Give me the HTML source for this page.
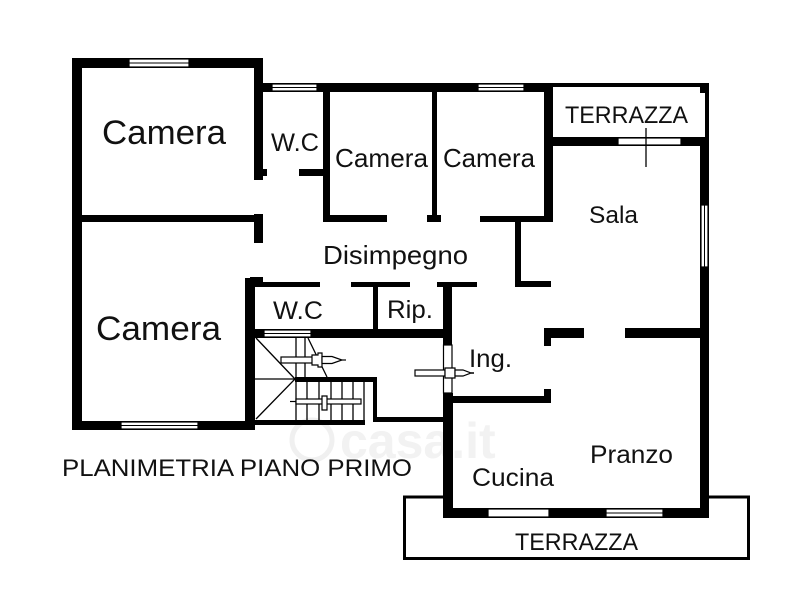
<!DOCTYPE html>
<html><head><meta charset="utf-8">
<style>
html,body{margin:0;padding:0;background:#fff;}
svg{display:block;}
text{font-family:"Liberation Sans",sans-serif;fill:#111;}
</style></head>
<body>
<svg width="800" height="597" viewBox="0 0 800 597" xmlns="http://www.w3.org/2000/svg">
<rect width="800" height="597" fill="#fff"/>

<!-- bottom terrace -->
<rect x="404.5" y="497" width="344" height="61.5" fill="none" stroke="#000" stroke-width="3"/>
<rect x="453" y="403" width="247" height="105" fill="#fff"/>

<!-- watermark -->
<g>
<circle cx="312" cy="440" r="20" fill="none" stroke="#f0f0f0" stroke-width="5"/>
<text x="340" y="458" font-size="50" font-weight="bold" style="fill:#f2f2f2">casa.it</text>
</g>

<g fill="#000">
<!-- top-left camera -->
<rect x="72" y="58" width="191" height="10"/>
<rect x="72" y="58" width="10" height="372"/>
<rect x="254" y="58" width="9" height="122"/>
<rect x="254" y="169" width="13" height="7"/>
<!-- WC top wall -->
<rect x="263" y="83" width="290" height="9"/>
<rect x="323" y="83" width="7" height="139"/>
<rect x="299" y="169" width="25" height="7"/>
<rect x="323" y="215" width="64" height="7"/>
<rect x="432" y="92" width="5" height="130"/>
<rect x="427" y="215" width="14" height="7"/>
<rect x="480" y="216" width="73" height="6"/>
<rect x="544" y="83" width="9" height="139"/>
<!-- camera/camera divider -->
<rect x="82" y="215" width="172" height="7"/>
<rect x="254" y="214" width="9" height="29"/>
<!-- lower camera -->
<rect x="245" y="278" width="10" height="152"/>
<rect x="250" y="277" width="13" height="8"/>
<rect x="72" y="421" width="183" height="9"/>
<!-- lower WC / Rip -->
<rect x="255" y="282" width="65" height="5"/>
<rect x="351" y="282" width="59" height="5"/>
<rect x="373" y="282" width="5" height="53"/>
<rect x="437" y="282" width="40" height="5"/>
<rect x="443" y="282" width="9" height="63"/>
<rect x="443" y="393" width="10" height="125"/>
<rect x="245" y="329" width="207" height="9"/>
<!-- stairs walls -->
<rect x="295" y="377" width="82" height="5"/>
<rect x="373" y="377" width="4" height="45"/>
<rect x="373" y="417" width="70" height="5"/>
<rect x="255" y="420" width="110" height="5"/>
<!-- Sala -->
<rect x="515" y="222" width="6" height="65"/>
<rect x="515" y="281" width="36" height="6"/>
<rect x="553" y="137" width="156" height="9"/>
<rect x="553" y="83" width="156" height="4"/>
<rect x="700" y="83" width="9" height="10"/>
<rect x="705" y="83" width="4" height="60"/>
<rect x="700" y="137" width="9" height="381"/>
<rect x="544" y="328" width="40" height="10"/>
<rect x="544" y="328" width="7" height="18"/>
<rect x="625" y="328" width="84" height="10"/>
<!-- cucina -->
<rect x="452" y="396" width="99" height="7"/>
<rect x="544" y="389" width="7" height="14"/>
<rect x="443" y="508" width="266" height="10"/>
</g>

<!-- windows -->
<g fill="#fff" stroke="#000" stroke-width="1.2">
<rect x="129" y="59" width="60" height="8"/>
<rect x="272" y="84" width="45" height="7"/>
<rect x="478" y="84" width="46" height="7"/>
<rect x="618" y="138" width="63" height="7"/>
<rect x="121" y="422" width="77" height="7"/>
<rect x="264" y="330" width="47" height="7"/>
<rect x="488" y="509" width="61" height="8"/>
<rect x="606" y="509" width="57" height="8"/>
<rect x="701" y="205" width="7" height="62"/>
<rect x="443.5" y="345" width="8.5" height="48"/>
</g>
<g stroke="#000" stroke-width="1">
<line x1="129" y1="63" x2="189" y2="63"/>
<line x1="272" y1="87.5" x2="317" y2="87.5"/>
<line x1="478" y1="87.5" x2="524" y2="87.5"/>
<line x1="121" y1="425.5" x2="198" y2="425.5"/>
<line x1="264" y1="333.5" x2="311" y2="333.5"/>
<line x1="606" y1="513" x2="663" y2="513"/>
<line x1="704.5" y1="205" x2="704.5" y2="267"/>
</g>
<!-- terrace cross -->
<line x1="646" y1="128" x2="646" y2="167" stroke="#000" stroke-width="1.3"/>

<!-- stairs -->
<g stroke="#000" stroke-width="1.3" fill="none">
<line x1="256" y1="338" x2="295" y2="379"/>
<line x1="295" y1="379" x2="256" y2="419"/>
<line x1="255" y1="379" x2="295" y2="379"/>
<line x1="296" y1="338" x2="296" y2="420"/>
<line x1="305" y1="338" x2="305" y2="377"/>
<line x1="308" y1="338" x2="327" y2="377"/>
<line x1="307" y1="382" x2="307" y2="420"/>
<line x1="319" y1="382" x2="319" y2="420"/>
<line x1="331" y1="382" x2="331" y2="420"/>
<line x1="342" y1="382" x2="342" y2="420"/>
<line x1="353" y1="382" x2="353" y2="420"/>
<line x1="364" y1="382" x2="364" y2="420"/>
</g>
<!-- stair arrows -->
<g stroke="#000" stroke-width="1.2" fill="#fff">
<rect x="281" y="357" width="50" height="6"/>
<path d="M312 355 h6 v-2 h4 v14 h-4 v-2 h-6 z"/>
<path d="M322 356.5 h10 l10 3.5 l-10 3.5 h-10 z"/>
<rect x="296" y="399" width="65" height="5"/>
<path d="M322 396 h5 v14 h-5 z"/>
<rect x="415" y="370" width="30" height="6"/>
<path d="M445 368 h10 v10 h-10 z"/>
<path d="M455 370 h8 l8 3 l-8 3 h-8 z"/>
</g>
<line x1="290" y1="401.5" x2="296" y2="401.5" stroke="#000" stroke-width="1.2"/>
<line x1="342" y1="360" x2="346" y2="360" stroke="#000" stroke-width="1.2"/>
<line x1="471" y1="373" x2="474" y2="373" stroke="#000" stroke-width="1.5"/>

<!-- labels -->
<text x="102" y="144" font-size="34" textLength="124" lengthAdjust="spacingAndGlyphs">Camera</text>
<text x="271" y="151" font-size="25" textLength="48" lengthAdjust="spacingAndGlyphs">W.C</text>
<text x="335" y="167" font-size="26" textLength="93" lengthAdjust="spacingAndGlyphs">Camera</text>
<text x="443" y="167" font-size="26" textLength="92" lengthAdjust="spacingAndGlyphs">Camera</text>
<text x="565" y="123" font-size="24" textLength="123" lengthAdjust="spacingAndGlyphs">TERRAZZA</text>
<text x="589" y="223" font-size="24" textLength="49" lengthAdjust="spacingAndGlyphs">Sala</text>
<text x="323" y="264" font-size="26" textLength="145" lengthAdjust="spacingAndGlyphs">Disimpegno</text>
<text x="96" y="340" font-size="34" textLength="125" lengthAdjust="spacingAndGlyphs">Camera</text>
<text x="273" y="319" font-size="25" textLength="50" lengthAdjust="spacingAndGlyphs">W.C</text>
<text x="387" y="318" font-size="25" textLength="46" lengthAdjust="spacingAndGlyphs">Rip.</text>
<text x="469" y="367" font-size="25" textLength="43" lengthAdjust="spacingAndGlyphs">Ing.</text>
<text x="590" y="463" font-size="25" textLength="83" lengthAdjust="spacingAndGlyphs">Pranzo</text>
<text x="472" y="486" font-size="25" textLength="82" lengthAdjust="spacingAndGlyphs">Cucina</text>
<text x="515" y="550" font-size="24" textLength="123" lengthAdjust="spacingAndGlyphs">TERRAZZA</text>
<text x="62" y="476" font-size="24.5" textLength="350" lengthAdjust="spacingAndGlyphs">PLANIMETRIA PIANO PRIMO</text>
</svg>
</body></html>
